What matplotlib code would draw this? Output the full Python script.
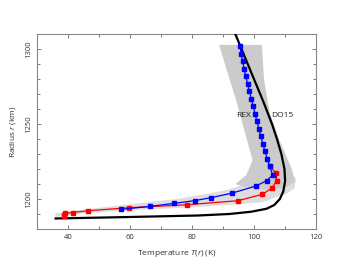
import matplotlib
matplotlib.use("Agg")
import matplotlib.pyplot as plt
from matplotlib.ticker import MultipleLocator

plt.rcParams['font.family'] = ['Open Sans', 'DejaVu Sans']
plt.rcParams['mathtext.fontset'] = 'custom'
plt.rcParams['mathtext.it'] = 'Open Sans:italic'
plt.rcParams['mathtext.rm'] = 'Open Sans'

# REX profile (blue)
rex_r = [1302, 1297, 1292, 1287, 1282, 1277, 1272, 1267, 1262, 1257, 1252,
         1247, 1242, 1237, 1232, 1227, 1222,
         1216.1, 1212.3, 1208.7, 1204.0, 1200.9, 1198.9, 1197.1, 1195.1, 1193.1]
rex_T = [95.5, 95.8, 96.3, 96.8, 97.3, 97.9, 98.5, 99.1, 99.7, 100.3, 100.9,
         101.5, 102.2, 102.8, 103.5, 104.2, 105.0,
         106.0, 104.1, 100.6, 93.0, 86.1, 80.8, 74.2, 66.5, 57.1]

# lower branch (red)
red_r = [1222, 1217.3, 1212.3, 1207.2, 1203.2, 1198.9, 1196.2, 1194.2,
         1192.2, 1191.0, 1190.4, 1189.3, 1188.4]
red_T = [105.0, 107.1, 107.3, 105.7, 102.7, 94.9, 78.5, 59.7,
         46.5, 41.5, 39.1, 38.8, 38.8]

# DO15 model (black)
do15_r = [1310, 1295, 1280, 1265, 1250, 1240, 1230, 1220, 1212, 1205, 1200,
          1196, 1193.5, 1191.5, 1190, 1189, 1188, 1187]
do15_T = [94.0, 97.0, 100.0, 103.0, 105.8, 107.4, 108.8, 109.8, 110.0, 109.4,
          108.3, 106.5, 104.0, 99.0, 92.0, 82.0, 60.0, 36.0]

# uncertainty envelopes (outline T, r)
dark_T = [88.7, 94.2, 99.5, 97.5, 94.0, 98.0, 104.0, 110.0, 113.2,
          112.2, 108.0, 105.0, 103.2, 102.5]
dark_r = [1303, 1266, 1226, 1216, 1210, 1207.5, 1206, 1207.5, 1211.6,
          1220, 1240, 1258, 1280, 1303]
light_T = [36, 45, 60, 75, 85, 92, 97, 100, 101, 108, 113.5, 113, 110,
           108, 103, 95, 80, 60, 45, 36]
light_r = [1190.5, 1193, 1196.5, 1200, 1203.5, 1206.5, 1210, 1214, 1220,
           1222, 1214, 1207, 1203, 1202, 1198, 1196.5, 1194.5, 1192.5, 1190.5, 1188]

fig = plt.figure(figsize=(3.54, 2.65), dpi=100)
ax = fig.add_axes([0.1045, 0.136, 0.7885, 0.734])

ax.fill(light_T, light_r, color='#dddddd', lw=0, zorder=1)
ax.fill(dark_T, dark_r, color='#cbcbcb', lw=0, zorder=1)

ax.plot(do15_T, do15_r, color='black', lw=1.6, zorder=3)
ax.plot(red_T, red_r, color='#ff0000', lw=0.9, marker='s', ms=2.6, zorder=4)
ax.plot(rex_T, rex_r, color='#0000ff', lw=0.9, marker='s', ms=2.6, zorder=5)

ax.text(94.2, 1256, 'REX', fontsize=6, color='#222222', va='center')
ax.text(105.5, 1256, 'DO15', fontsize=6, color='#222222', va='center')

ax.set_xlim(30, 120)
ax.set_ylim(1180, 1310)
ax.set_xticks([40, 60, 80, 100, 120])
ax.set_yticks([1200, 1250, 1300])
ax.xaxis.set_minor_locator(MultipleLocator(10))
ax.yaxis.set_minor_locator(MultipleLocator(10))
ax.tick_params(which='both', direction='in', top=True, right=True,
               labelsize=5.5, labelcolor='#333333', color='#666666', width=0.6)
ax.tick_params(which='major', length=3)
ax.tick_params(which='minor', length=2)
for lab in ax.get_yticklabels():
    lab.set_rotation(90)
    lab.set_va('center')
for s in ax.spines.values():
    s.set_color('#888888')
    s.set_linewidth(0.8)

ax.set_xlabel('Temperature $T(r)$ (K)', fontsize=6, color='#333333', labelpad=5)
ax.set_ylabel('Radius $r$ (km)', fontsize=6, color='#333333', labelpad=5)

fig.savefig('out.png', dpi=100)
